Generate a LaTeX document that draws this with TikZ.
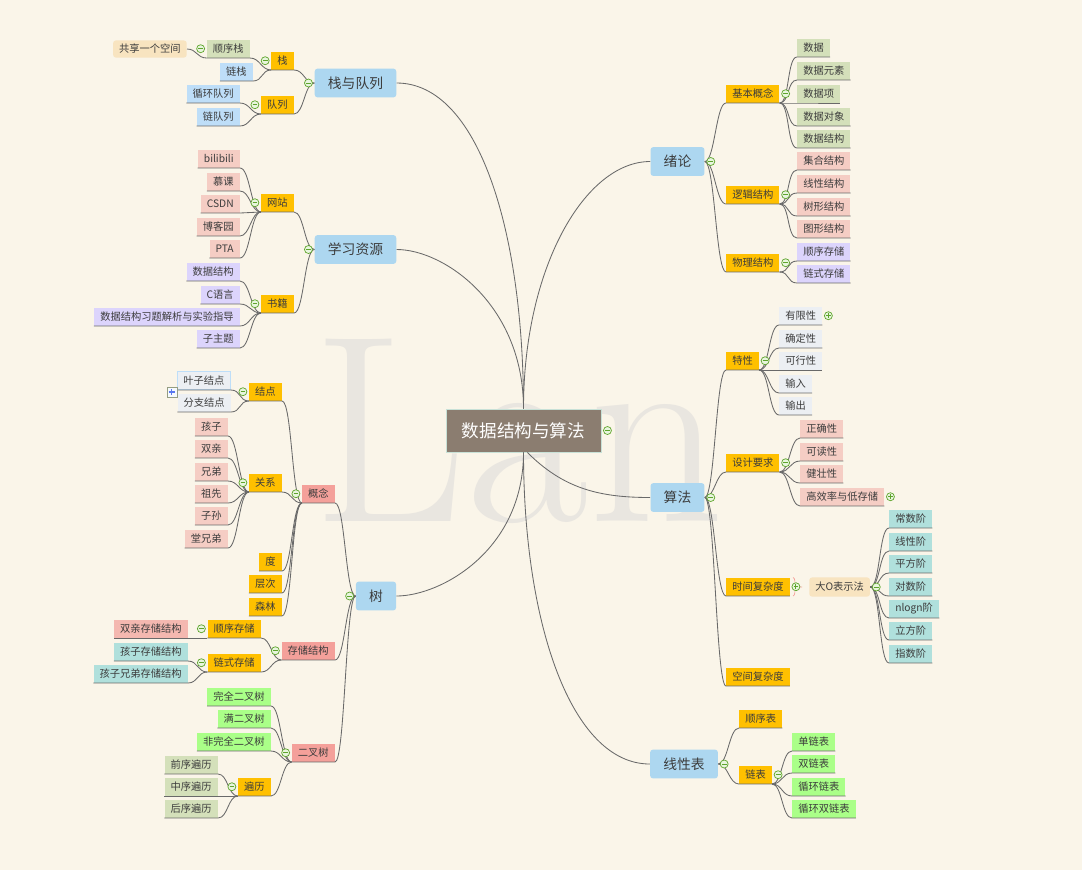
\documentclass[tikz,border=0pt]{standalone}
\usepackage{fontspec}
\newfontfamily\cjk{Noto Sans CJK SC}
\usetikzlibrary{decorations.pathreplacing}

\definecolor{paper}{RGB}{250,245,233}
\definecolor{markc}{RGB}{233,230,224}
\definecolor{rootc}{RGB}{139,125,112}
\definecolor{rootedge}{RGB}{200,225,215}
\definecolor{topicc}{RGB}{173,215,240}
\definecolor{goldc}{RGB}{255,192,0}
\definecolor{salmonc}{RGB}{244,160,154}
\definecolor{sagec}{RGB}{212,224,186}
\definecolor{skyc}{RGB}{190,222,248}
\definecolor{blushc}{RGB}{245,205,196}
\definecolor{lilacc}{RGB}{220,212,252}
\definecolor{mistc}{RGB}{236,239,243}
\definecolor{aquac}{RGB}{176,224,220}
\definecolor{limec}{RGB}{170,255,136}
\definecolor{sandc}{RGB}{248,228,192}
\definecolor{rosec}{RGB}{244,184,176}
\definecolor{wirec}{RGB}{105,105,105}
\definecolor{inkc}{RGB}{60,60,60}
\definecolor{foldc}{RGB}{95,165,45}
\definecolor{foldbg}{RGB}{232,245,222}
\definecolor{expandc}{RGB}{90,120,240}

\tikzset{
  fold/.pic={
    \draw[foldc, fill=foldbg, line width=0.5pt] (0,0) circle (0.1cm);
    \draw[foldc, line width=0.7pt] (-0.06cm,0) -- (0.06cm,0);
  },
  unfold/.pic={
    \draw[foldc, fill=foldbg, line width=0.5pt] (0,0) circle (0.1cm);
    \draw[foldc, line width=0.7pt] (-0.06cm,0) -- (0.06cm,0) (0,-0.06cm) -- (0,0.06cm);
  },
  expand/.pic={
    \draw[sagec!70!black, fill=white!85!skyc, line width=0.4pt] (-0.125cm,-0.125cm) rectangle (0.125cm,0.125cm);
    \draw[expandc, line width=0.8pt] (-0.08cm,0) -- (0.08cm,0) (0,-0.08cm) -- (0,0.08cm);
  },
}

\begin{document}
\begin{tikzpicture}[x=0.025cm, y=-0.025cm,
        wire/.style={draw=wirec, line width=0.6pt},
        ltie/.style={to path={.. controls +(-10,0) and +(10,0) .. (\tikztotarget)}},
        rtie/.style={to path={.. controls +(10,0) and +(-10,0) .. (\tikztotarget)}},
        trunk/.style={out looseness=1.3, in looseness=0.6},
        txt/.style={font=\cjk\fontsize{7.3}{8.5}\selectfont, text=inkc, inner xsep=0.15cm, inner ysep=0pt, minimum height=0.45cm},
        leafbox/.style={txt, fill=#1},
        subbox/.style={txt, fill=goldc},
        partbox/.style={txt, fill=salmonc},
        notebox/.style={txt, fill=sandc, rounded corners=2pt},
        topicbox/.style={font=\cjk\fontsize{9.8}{11}\selectfont, text=inkc, fill=topicc, rounded corners=2pt, inner xsep=0.33cm, inner ysep=0pt, minimum height=0.72cm},
        rootbox/.style={font=\cjk\fontsize{12.5}{14}\selectfont, text=white, fill=rootc, draw=rootedge, line width=0.6pt, inner xsep=0.4cm, inner ysep=0pt, minimum height=1.075cm}
    ]
    \fill[paper] (0,0) rectangle (1082,870);
    \useasboundingbox (0,0) rectangle (1082,870);
    \node[font=\fontsize{190}{190}\selectfont, text=markc, anchor=base west, inner sep=0pt] (mark) at (312,521) {Lan};

    % centre and main topics
    \node[rootbox] (root) at (523.5,430.5) {数据结构与算法};
    \node[topicbox] (stackqueue) at (355.5,83) {栈与队列};
    \node[topicbox] (resources) at (355.5,249.5) {学习资源};
    \node[topicbox] (tree) at (376,596) {树};
    \node[topicbox] (intro) at (677.5,161.5) {绪论};
    \node[topicbox] (algo) at (677.5,497.5) {算法};
    \node[topicbox] (linear) at (684,764) {线性表};

    % 栈与队列
    \node[subbox, anchor=south east] (stack) at (294,70) {栈};
    \node[leafbox=sagec, anchor=south east] (seqstack) at (250,58) {顺序栈};
    \node[notebox, anchor=east, minimum height=0.43cm] (shared) at (187,49) {共享一个空间};
    \node[leafbox=skyc, anchor=south east] (linkstack) at (253,81) {链栈};
    \node[subbox, anchor=south east] (queue) at (294,114) {队列};
    \node[leafbox=skyc, anchor=south east] (cirqueue) at (240,103) {循环队列};
    \node[leafbox=skyc, anchor=south east] (linkqueue) at (240,126) {链队列};

    % 学习资源
    \node[subbox, anchor=south east] (sites) at (294,212) {网站};
    \node[leafbox=blushc, anchor=south east] (bili) at (240,168) {bilibili};
    \node[leafbox=blushc, anchor=south east] (mooc) at (240,191) {慕课};
    \node[leafbox=blushc, anchor=south east] (csdn) at (240,213) {CSDN};
    \node[leafbox=blushc, anchor=south east] (cnblogs) at (240,236) {博客园};
    \node[leafbox=blushc, anchor=south east] (pta) at (240,258) {PTA};
    \node[subbox, anchor=south east] (books) at (294,313) {书籍};
    \node[leafbox=lilacc, anchor=south east] (bkds) at (240,281) {数据结构};
    \node[leafbox=lilacc, anchor=south east] (bkc) at (240,304) {C语言};
    \node[leafbox=lilacc, anchor=south east] (bkex) at (240,326) {数据结构习题解析与实验指导};
    \node[leafbox=lilacc, anchor=south east] (bksub) at (240,348) {子主题};

    % 树
    \node[partbox, anchor=south east] (concept) at (335,503) {概念};
    \node[subbox, anchor=south east] (tnode) at (282,401) {结点};
    \node[leafbox=mistc, draw=skyc, line width=0.8pt, anchor=south east] (leafn) at (231,390) {叶子结点};
    \node[leafbox=mistc, anchor=south east] (branchn) at (231,412) {分支结点};
    \node[subbox, anchor=south east] (relation) at (282,492) {关系};
    \node[leafbox=blushc, anchor=south east] (child) at (228,436) {孩子};
    \node[leafbox=blushc, anchor=south east] (parentr) at (228,458) {双亲};
    \node[leafbox=blushc, anchor=south east] (sibling) at (228,481) {兄弟};
    \node[leafbox=blushc, anchor=south east] (ancestor) at (228,503) {祖先};
    \node[leafbox=blushc, anchor=south east] (descendant) at (228,525) {子孙};
    \node[leafbox=blushc, anchor=south east] (cousin) at (228,548) {堂兄弟};
    \node[subbox, anchor=south east] (degree) at (282,571) {度};
    \node[subbox, anchor=south east] (level) at (282,593) {层次};
    \node[subbox, anchor=south east] (forest) at (282,616) {森林};
    \node[partbox, anchor=south east] (storage) at (335,660) {存储结构};
    \node[subbox, anchor=south east] (seqstore) at (261,638) {顺序存储};
    \node[leafbox=rosec, anchor=south east] (parentrep) at (188,638) {双亲存储结构};
    \node[subbox, anchor=south east] (linkstore) at (261,672) {链式存储};
    \node[leafbox=aquac, anchor=south east] (childrep) at (188,661) {孩子存储结构};
    \node[leafbox=aquac, anchor=south east] (csrep) at (188,683) {孩子兄弟存储结构};
    \node[partbox, anchor=south east] (bintree) at (335,762) {二叉树};
    \node[leafbox=limec, anchor=south east] (complete) at (271,706) {完全二叉树};
    \node[leafbox=limec, anchor=south east] (full) at (271,728) {满二叉树};
    \node[leafbox=limec, anchor=south east] (noncomplete) at (271,751) {非完全二叉树};
    \node[subbox, anchor=south east] (traversal) at (271,796) {遍历};
    \node[leafbox=sagec, anchor=south east] (preorder) at (218,774) {前序遍历};
    \node[leafbox=sagec, anchor=south east] (inorder) at (218,796) {中序遍历};
    \node[leafbox=sagec, anchor=south east] (postorder) at (218,818) {后序遍历};

    % 绪论
    \node[subbox, anchor=south west] (basics) at (726,103) {基本概念};
    \node[leafbox=sagec, anchor=south west] (data) at (797,57) {数据};
    \node[leafbox=sagec, anchor=south west] (elem) at (797,80) {数据元素};
    \node[leafbox=sagec, anchor=south west] (item) at (797,103) {数据项};
    \node[leafbox=sagec, anchor=south west] (dobj) at (797,126) {数据对象};
    \node[leafbox=sagec, anchor=south west] (dstruct) at (797,148) {数据结构};
    \node[subbox, anchor=south west] (logical) at (726,204) {逻辑结构};
    \node[leafbox=blushc, anchor=south west] (setst) at (797,170) {集合结构};
    \node[leafbox=blushc, anchor=south west] (linst) at (797,193) {线性结构};
    \node[leafbox=blushc, anchor=south west] (treest) at (797,216) {树形结构};
    \node[leafbox=blushc, anchor=south west] (graphst) at (797,238) {图形结构};
    \node[subbox, anchor=south west] (physical) at (726,272) {物理结构};
    \node[leafbox=lilacc, anchor=south west] (seqst) at (797,261) {顺序存储};
    \node[leafbox=lilacc, anchor=south west] (linkst) at (797,283) {链式存储};

    % 算法
    \node[subbox, anchor=south west] (props) at (726,370) {特性};
    \node[leafbox=mistc, anchor=south west] (finite) at (779,325) {有限性};
    \node[leafbox=mistc, anchor=south west] (definite) at (779,348) {确定性};
    \node[leafbox=mistc, anchor=south west] (feasible) at (779,370) {可行性};
    \node[leafbox=mistc, anchor=south west] (inp) at (779,393) {输入};
    \node[leafbox=mistc, anchor=south west] (outp) at (779,415) {输出};
    \node[subbox, anchor=south west] (design) at (726,472) {设计要求};
    \node[leafbox=blushc, anchor=south west] (correct) at (800,438) {正确性};
    \node[leafbox=blushc, anchor=south west] (readable) at (800,461) {可读性};
    \node[leafbox=blushc, anchor=south west] (robust) at (800,483) {健壮性};
    \node[leafbox=blushc, anchor=south west] (efficient) at (800,506) {高效率与低存储};
    \node[subbox, anchor=south west] (timec) at (726,596) {时间复杂度};
    \node[notebox, anchor=west, minimum height=0.48cm] (bigo) at (809,587) {大O表示法};
    \node[leafbox=aquac, anchor=south west] (oconst) at (889,528) {常数阶};
    \node[leafbox=aquac, anchor=south west] (olin) at (889,551) {线性阶};
    \node[leafbox=aquac, anchor=south west] (osq) at (889,573) {平方阶};
    \node[leafbox=aquac, anchor=south west] (olog) at (889,596) {对数阶};
    \node[leafbox=aquac, anchor=south west] (onlogn) at (889,618) {nlogn阶};
    \node[leafbox=aquac, anchor=south west] (ocube) at (889,640) {立方阶};
    \node[leafbox=aquac, anchor=south west] (oexp) at (889,663) {指数阶};
    \node[subbox, anchor=south west] (spacec) at (726,686) {空间复杂度};

    % 线性表
    \node[subbox, anchor=south west] (seqlist) at (739,728) {顺序表};
    \node[subbox, anchor=south west] (linklist) at (739,784) {链表};
    \node[leafbox=limec, anchor=south west] (single) at (792,751) {单链表};
    \node[leafbox=limec, anchor=south west] (double) at (792,773) {双链表};
    \node[leafbox=limec, anchor=south west] (circ) at (792,796) {循环链表};
    \node[leafbox=limec, anchor=south west] (circdouble) at (792,818) {循环双链表};

    % trunks
    \draw[wire] (root.north) to[out=90, in=0, trunk] (stackqueue.east);
    \draw[wire] (root.north) to[out=90, in=0, trunk] (resources.east);
    \draw[wire] (root.north) to[out=90, in=180, trunk] (intro.west);
    \draw[wire] (root.south) to[out=-90, in=0, trunk] (tree.east);
    \draw[wire] (root.-80) to[out=-45, in=180] (algo.west);
    \draw[wire] (root.south) to[out=-90, in=180, trunk] (linear.west);

    % left branches
    \draw[wire] (stackqueue.west) to[ltie] (stack.south east) -- (stack.south west);
    \draw[wire] (stackqueue.west) to[ltie] (queue.south east) -- (queue.south west);
    \draw[wire] (stack.south west) to[ltie] (seqstack.south east) -- (seqstack.south west);
    \draw[wire] (stack.south west) to[ltie] (linkstack.south east) -- (linkstack.south west);
    \draw[wire] (seqstack.south west) to[ltie] (shared.east);
    \draw[wire] (queue.south west) to[ltie] (cirqueue.south east) -- (cirqueue.south west);
    \draw[wire] (queue.south west) to[ltie] (linkqueue.south east) -- (linkqueue.south west);

    \draw[wire] (resources.west) to[ltie] (sites.south east) -- (sites.south west);
    \draw[wire] (resources.west) to[ltie] (books.south east) -- (books.south west);
    \draw[wire] (sites.south west) to[ltie] (bili.south east) -- (bili.south west);
    \draw[wire] (sites.south west) to[ltie] (mooc.south east) -- (mooc.south west);
    \draw[wire] (sites.south west) to[ltie] (csdn.south east) -- (csdn.south west);
    \draw[wire] (sites.south west) to[ltie] (cnblogs.south east) -- (cnblogs.south west);
    \draw[wire] (sites.south west) to[ltie] (pta.south east) -- (pta.south west);
    \draw[wire] (books.south west) to[ltie] (bkds.south east) -- (bkds.south west);
    \draw[wire] (books.south west) to[ltie] (bkc.south east) -- (bkc.south west);
    \draw[wire] (books.south west) to[ltie] (bkex.south east) -- (bkex.south west);
    \draw[wire] (books.south west) to[ltie] (bksub.south east) -- (bksub.south west);

    \draw[wire] (tree.west) to[ltie] (concept.south east) -- (concept.south west);
    \draw[wire] (tree.west) to[ltie] (storage.south east) -- (storage.south west);
    \draw[wire] (tree.west) to[ltie] (bintree.south east) -- (bintree.south west);
    \draw[wire] (concept.south west) to[ltie] (tnode.south east) -- (tnode.south west);
    \draw[wire] (concept.south west) to[ltie] (relation.south east) -- (relation.south west);
    \draw[wire] (concept.south west) to[ltie] (degree.south east) -- (degree.south west);
    \draw[wire] (concept.south west) to[ltie] (level.south east) -- (level.south west);
    \draw[wire] (concept.south west) to[ltie] (forest.south east) -- (forest.south west);
    \draw[wire] (tnode.south west) to[ltie] (leafn.south east) -- (leafn.south west);
    \draw[wire] (tnode.south west) to[ltie] (branchn.south east) -- (branchn.south west);
    \draw[wire] (relation.south west) to[ltie] (child.south east) -- (child.south west);
    \draw[wire] (relation.south west) to[ltie] (parentr.south east) -- (parentr.south west);
    \draw[wire] (relation.south west) to[ltie] (sibling.south east) -- (sibling.south west);
    \draw[wire] (relation.south west) to[ltie] (ancestor.south east) -- (ancestor.south west);
    \draw[wire] (relation.south west) to[ltie] (descendant.south east) -- (descendant.south west);
    \draw[wire] (relation.south west) to[ltie] (cousin.south east) -- (cousin.south west);
    \draw[wire] (storage.south west) to[ltie] (seqstore.south east) -- (seqstore.south west);
    \draw[wire] (storage.south west) to[ltie] (linkstore.south east) -- (linkstore.south west);
    \draw[wire] (seqstore.south west) to[ltie] (parentrep.south east) -- (parentrep.south west);
    \draw[wire] (linkstore.south west) to[ltie] (childrep.south east) -- (childrep.south west);
    \draw[wire] (linkstore.south west) to[ltie] (csrep.south east) -- (csrep.south west);
    \draw[wire] (bintree.south west) to[ltie] (complete.south east) -- (complete.south west);
    \draw[wire] (bintree.south west) to[ltie] (full.south east) -- (full.south west);
    \draw[wire] (bintree.south west) to[ltie] (noncomplete.south east) -- (noncomplete.south west);
    \draw[wire] (bintree.south west) to[ltie] (traversal.south east) -- (traversal.south west);
    \draw[wire] (traversal.south west) to[ltie] (preorder.south east) -- (preorder.south west);
    \draw[wire] (traversal.south west) to[ltie] (inorder.south east) -- (inorder.south west);
    \draw[wire] (traversal.south west) to[ltie] (postorder.south east) -- (postorder.south west);

    % right branches
    \draw[wire] (intro.east) to[rtie] (basics.south west) -- (basics.south east);
    \draw[wire] (intro.east) to[rtie] (logical.south west) -- (logical.south east);
    \draw[wire] (intro.east) to[rtie] (physical.south west) -- (physical.south east);
    \draw[wire] (basics.south east) to[rtie] (data.south west) -- (data.south east);
    \draw[wire] (basics.south east) to[rtie] (elem.south west) -- (elem.south east);
    \draw[wire] (basics.south east) to[rtie] (item.south west) -- (item.south east);
    \draw[wire] (basics.south east) to[rtie] (dobj.south west) -- (dobj.south east);
    \draw[wire] (basics.south east) to[rtie] (dstruct.south west) -- (dstruct.south east);
    \draw[wire] (logical.south east) to[rtie] (setst.south west) -- (setst.south east);
    \draw[wire] (logical.south east) to[rtie] (linst.south west) -- (linst.south east);
    \draw[wire] (logical.south east) to[rtie] (treest.south west) -- (treest.south east);
    \draw[wire] (logical.south east) to[rtie] (graphst.south west) -- (graphst.south east);
    \draw[wire] (physical.south east) to[rtie] (seqst.south west) -- (seqst.south east);
    \draw[wire] (physical.south east) to[rtie] (linkst.south west) -- (linkst.south east);

    \draw[wire] (algo.east) to[rtie] (props.south west) -- (props.south east);
    \draw[wire] (algo.east) to[rtie] (design.south west) -- (design.south east);
    \draw[wire] (algo.east) to[rtie] (timec.south west) -- (timec.south east);
    \draw[wire] (algo.east) to[rtie] (spacec.south west) -- (spacec.south east);
    \draw[wire] (props.south east) to[rtie] (finite.south west) -- (finite.south east);
    \draw[wire] (props.south east) to[rtie] (definite.south west) -- (definite.south east);
    \draw[wire] (props.south east) to[rtie] (feasible.south west) -- (feasible.south east);
    \draw[wire] (props.south east) to[rtie] (inp.south west) -- (inp.south east);
    \draw[wire] (props.south east) to[rtie] (outp.south west) -- (outp.south east);
    \draw[wire] (design.south east) to[rtie] (correct.south west) -- (correct.south east);
    \draw[wire] (design.south east) to[rtie] (readable.south west) -- (readable.south east);
    \draw[wire] (design.south east) to[rtie] (robust.south west) -- (robust.south east);
    \draw[wire] (design.south east) to[rtie] (efficient.south west) -- (efficient.south east);
    \draw[wire] (bigo.east) to[rtie] (oconst.south west) -- (oconst.south east);
    \draw[wire] (bigo.east) to[rtie] (olin.south west) -- (olin.south east);
    \draw[wire] (bigo.east) to[rtie] (osq.south west) -- (osq.south east);
    \draw[wire] (bigo.east) to[rtie] (olog.south west) -- (olog.south east);
    \draw[wire] (bigo.east) to[rtie] (onlogn.south west) -- (onlogn.south east);
    \draw[wire] (bigo.east) to[rtie] (ocube.south west) -- (ocube.south east);
    \draw[wire] (bigo.east) to[rtie] (oexp.south west) -- (oexp.south east);
    \draw[decorate, decoration={brace, amplitude=2.5pt}, draw=salmonc, line width=0.5pt]
        ([xshift=0.08cm]timec.north east) -- ([xshift=0.08cm]timec.south east);
    \draw[draw=salmonc, line width=0.5pt] ([xshift=0.18cm]timec.east) -- ([xshift=-0.17cm]bigo.west);

    \draw[wire] (linear.east) to[rtie] (seqlist.south west) -- (seqlist.south east);
    \draw[wire] (linear.east) to[rtie] (linklist.south west) -- (linklist.south east);
    \draw[wire] (linklist.south east) to[rtie] (single.south west) -- (single.south east);
    \draw[wire] (linklist.south east) to[rtie] (double.south west) -- (double.south east);
    \draw[wire] (linklist.south east) to[rtie] (circ.south west) -- (circ.south east);
    \draw[wire] (linklist.south east) to[rtie] (circdouble.south west) -- (circdouble.south east);

    % fold markers
    \foreach \n in {stackqueue,stack,seqstack,queue,resources,sites,books,tree,concept,tnode,relation,storage,seqstore,linkstore,bintree,traversal}
        \pic at ([xshift=-0.15cm]\n.west) {fold};
    \foreach \n in {root,intro,basics,logical,physical,algo,props,design,bigo,linear,linklist}
        \pic at ([xshift=0.15cm]\n.east) {fold};
    \foreach \n in {finite,efficient,timec}
        \pic at ([xshift=0.15cm]\n.east) {unfold};
    \pic at ([xshift=-0.125cm,yshift=-0.05cm]leafn.south west) {expand};
\end{tikzpicture}
\end{document}
